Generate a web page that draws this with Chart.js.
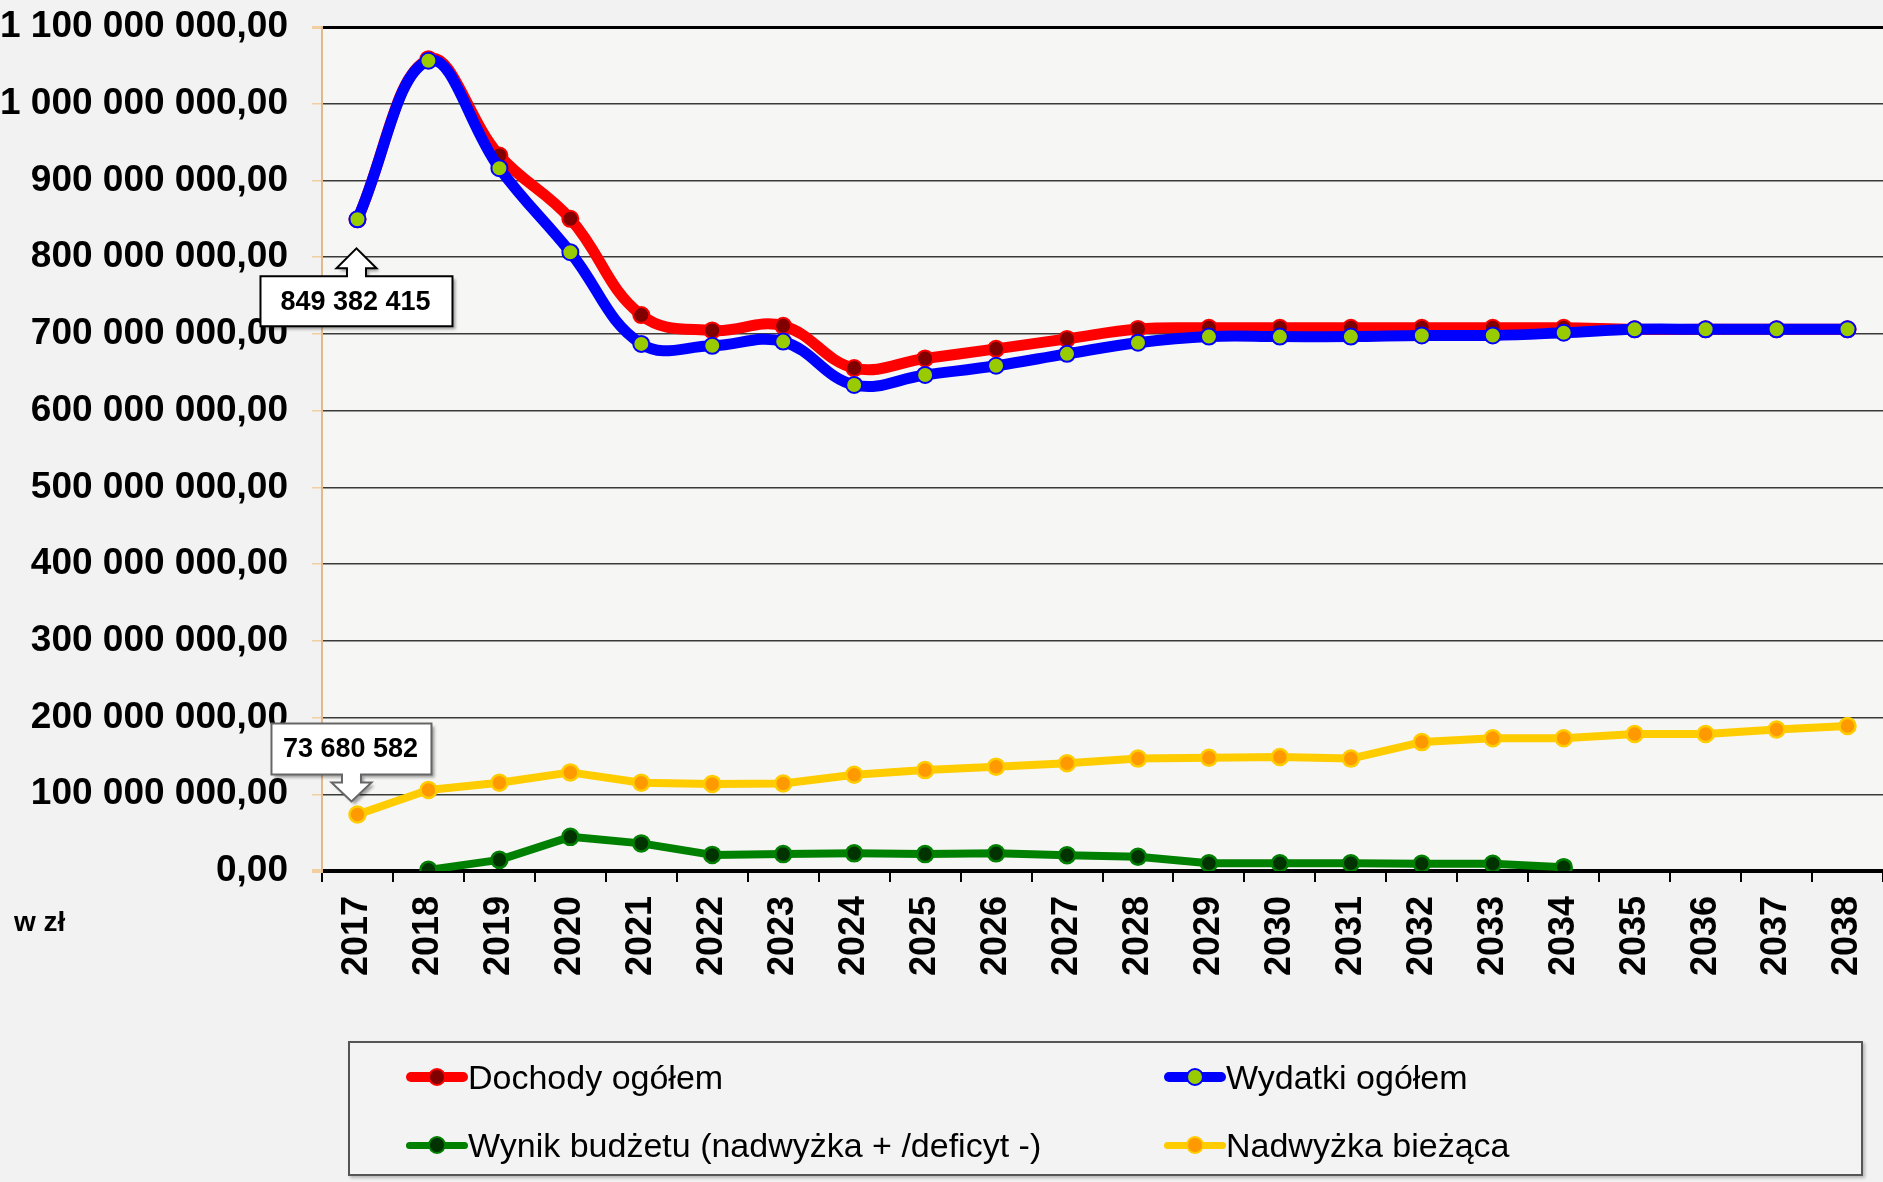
<!DOCTYPE html>
<html lang="pl">
<head>
    <meta charset="UTF-8">
    <title>Dochody i wydatki 2017-2038</title>
    <script src="https://cdn.jsdelivr.net/npm/chart.js"></script>
    <style>
        body {
            margin: 0;
            width: 1883px;
            height: 1182px;
            overflow: hidden;
            background: #f2f2f2;
            font-family: "Liberation Sans", Arial, sans-serif;
        }
        .wrap {
            position: relative;
            width: 1883px;
            height: 1182px;
        }
        #budgetChart {
            position: absolute;
            left: 0;
            top: 0;
        }
        .unit {
            position: absolute;
            left: 14px;
            top: 906px;
            font-weight: bold;
            font-size: 28px;
        }
        .legend {
            position: absolute;
            left: 348px;
            top: 1041px;
            width: 1511px;
            height: 131px;
            border: 2px solid #555;
            background: #f3f3f3;
            box-shadow: 2px 2px 3px rgba(0, 0, 0, 0.25);
        }
        .legend-item {
            position: absolute;
            height: 40px;
            display: flex;
            align-items: center;
            font-size: 34px;
            color: #000;
            white-space: nowrap;
        }
        .legend-sym {
            position: relative;
            width: 62px;
            margin-right: 0;
            border-radius: 5px;
        }
        .legend-dot {
            position: absolute;
            left: 22px;
            width: 14px;
            height: 14px;
            border-radius: 50%;
            border: 2px solid;
        }
    </style>
</head>
<body>
<div class="wrap">
    <canvas id="budgetChart" width="1883" height="1182"></canvas>
    <div class="unit">w zł</div>
    <div class="legend" id="legend"></div>
</div>

<script>
    const years = ['2017', '2018', '2019', '2020', '2021', '2022', '2023', '2024', '2025', '2026', '2027',
        '2028', '2029', '2030', '2031', '2032', '2033', '2034', '2035', '2036', '2037', '2038'];

    const dochody = [849382415, 1058000000, 932500000, 850000000, 724500000, 704500000, 710500000, 655500000,
        668000000, 680500000, 693500000, 706500000, 708000000, 708000000, 708000000, 708000000, 708000000,
        708000000, 706000000, 706000000, 706000000, 706000000];

    const wydatki = [849382415, 1056000000, 916000000, 806500000, 687000000, 684500000, 690000000, 633500000,
        646500000, 658500000, 674000000, 688500000, 696500000, 696500000, 696500000, 698000000, 698000000,
        701500000, 706000000, 706000000, 706000000, 706000000];

    const wynik = [null, 1500000, 14500000, 44500000, 36000000, 21000000, 22000000, 23000000, 22000000,
        23000000, 20500000, 18500000, 10000000, 10000000, 10000000, 9500000, 9500000, 5000000,
        null, null, null, null];

    const nadwyzka = [73680582, 105500000, 115000000, 128500000, 115000000, 113500000, 114000000, 125500000,
        131500000, 136000000, 140500000, 146500000, 147500000, 148500000, 146500000, 168000000, 173000000,
        173000000, 178500000, 178500000, 184500000, 189000000];

    const yMax = 1100000000;
    const yStep = 100000000;

    function fmt(v) {
        return Math.round(v).toString().replace(/\B(?=(\d{3})+(?!\d))/g, ' ');
    }

    Chart.defaults.font.family = '"Liberation Sans", Arial, sans-serif';
    Chart.defaults.color = '#000';

    // light fill behind the plot
    const plotBg = {
        id: 'plotBg',
        beforeDraw(chart) {
            const { ctx, chartArea: a } = chart;
            ctx.save();
            ctx.fillStyle = '#f6f6f5';
            ctx.fillRect(a.left, a.top, a.right - a.left, a.bottom - a.top);
            ctx.restore();
        }
    };

    // box + arrow label pointing at a data point
    function drawCallout(ctx, x, y, text, dir, stroke) {
        let tx, ty, hb, bt, bb, bl, br, textX;
        const hh = 20, sh = 9.5;
        if (dir === 'up') {
            tx = x - 1; ty = y + 29; hb = ty + 20;
            bt = hb + 8; bb = bt + 50; bl = x - 97; br = x + 95; textX = x - 2;
        } else {
            tx = x - 6; ty = y - 13; hb = ty - 19;
            bb = hb - 8; bt = bb - 51; bl = x - 86; br = x + 74; textX = x - 7;
        }
        ctx.save();
        ctx.beginPath();
        if (dir === 'up') {
            ctx.moveTo(bl, bt);
            ctx.lineTo(tx - sh, bt); ctx.lineTo(tx - sh, hb); ctx.lineTo(tx - hh, hb);
            ctx.lineTo(tx, ty);
            ctx.lineTo(tx + hh, hb); ctx.lineTo(tx + sh, hb); ctx.lineTo(tx + sh, bt);
            ctx.lineTo(br, bt); ctx.lineTo(br, bb); ctx.lineTo(bl, bb);
        } else {
            ctx.moveTo(bl, bt);
            ctx.lineTo(br, bt); ctx.lineTo(br, bb);
            ctx.lineTo(tx + sh, bb); ctx.lineTo(tx + sh, hb); ctx.lineTo(tx + hh, hb);
            ctx.lineTo(tx, ty);
            ctx.lineTo(tx - hh, hb); ctx.lineTo(tx - sh, hb); ctx.lineTo(tx - sh, bb);
            ctx.lineTo(bl, bb);
        }
        ctx.closePath();
        ctx.shadowColor = 'rgba(0, 0, 0, 0.35)';
        ctx.shadowOffsetX = 3;
        ctx.shadowOffsetY = 3;
        ctx.shadowBlur = 3;
        ctx.fillStyle = '#fff';
        ctx.fill();
        ctx.shadowColor = 'transparent';
        ctx.lineWidth = 2;
        ctx.strokeStyle = stroke;
        ctx.stroke();
        ctx.fillStyle = '#000';
        ctx.font = 'bold 27px "Liberation Sans", Arial, sans-serif';
        ctx.textAlign = 'center';
        ctx.textBaseline = 'middle';
        ctx.fillText(text, textX, (bt + bb) / 2 + 1);
        ctx.restore();
    }

    const callouts = {
        id: 'callouts',
        afterDatasetsDraw(chart) {
            const pBlue = chart.getDatasetMeta(1).data[0];
            const pYellow = chart.getDatasetMeta(3).data[0];
            drawCallout(chart.ctx, pBlue.x, pBlue.y, fmt(wydatki[0]), 'up', '#000');
            drawCallout(chart.ctx, pYellow.x, pYellow.y, fmt(nadwyzka[0]), 'down', '#666');
        }
    };

    const ctx = document.getElementById('budgetChart').getContext('2d');
    const budgetChart = new Chart(ctx, {
        type: 'line',
        data: {
            labels: years,
            datasets: [
                {
                    label: 'Dochody ogółem',
                    data: dochody,
                    borderColor: '#ff0000',
                    borderWidth: 11,
                    tension: 0.4,
                    pointBackgroundColor: '#800000',
                    pointBorderColor: '#ff0000',
                    order: 1
                },
                {
                    label: 'Wydatki ogółem',
                    data: wydatki,
                    borderColor: '#0000ff',
                    borderWidth: 11,
                    tension: 0.4,
                    pointBackgroundColor: '#99cc00',
                    pointBorderColor: '#0000ff',
                    order: 0
                },
                {
                    label: 'Wynik budżetu (nadwyżka + /deficyt -)',
                    data: wynik,
                    borderColor: '#008000',
                    borderWidth: 8,
                    tension: 0,
                    pointBackgroundColor: '#003300',
                    pointBorderColor: '#008000',
                    pointBorderWidth: 2.5,
                    order: 2
                },
                {
                    label: 'Nadwyżka bieżąca',
                    data: nadwyzka,
                    borderColor: '#ffcc00',
                    borderWidth: 8,
                    tension: 0,
                    pointBackgroundColor: '#ff9900',
                    pointBorderColor: '#ffcc00',
                    pointBorderWidth: 2.5,
                    order: 3
                }
            ]
        },
        options: {
            responsive: false,
            animation: false,
            layout: { autoPadding: false, padding: { top: 27, left: 0, right: 0, bottom: 0 } },
            datasets: {
                line: { pointRadius: 8, pointHoverRadius: 8, pointBorderWidth: 2, pointHoverBorderWidth: 2 }
            },
            elements: {
                line: { borderCapStyle: 'round', borderJoinStyle: 'round' }
            },
            plugins: {
                legend: { display: false },
                tooltip: { enabled: false }
            },
            scales: {
                x: {
                    offset: true,
                    grid: {
                        offset: true,
                        drawOnChartArea: false,
                        tickLength: 11,
                        color: '#000',
                        lineWidth: 2
                    },
                    border: { color: '#000', width: 3 },
                    ticks: {
                        minRotation: 90,
                        maxRotation: 90,
                        padding: 14,
                        font: { size: 36, weight: 'bold', lineHeight: 1 }
                    },
                    afterFit(scale) {
                        scale.height = 311;
                        scale.paddingLeft = 0;
                        scale.paddingRight = 0;
                    }
                },
                y: {
                    min: 0,
                    max: yMax,
                    ticks: {
                        stepSize: yStep,
                        padding: 24,
                        font: { size: 37, weight: 'bold' },
                        callback: v => fmt(v) + ',00'
                    },
                    grid: {
                        color: c => (c.tick.value === 0 || c.tick.value === yMax) ? '#000' : '#3a3a3a',
                        lineWidth: c => c.tick.value === 0 ? 4 : (c.tick.value === yMax ? 3 : 1.5),
                        tickColor: '#f2cfa0',
                        tickLength: 10
                    },
                    border: { color: '#e2b98a', width: 2 },
                    afterFit(scale) {
                        scale.width = 322;
                        scale.paddingTop = 0;
                        scale.paddingBottom = 0;
                    }
                }
            }
        },
        plugins: [plotBg, callouts]
    });

    // legend box, two columns
    const legendPos = [[56, 14], [814, 14], [56, 82], [814, 82]];
    const legendEl = document.getElementById('legend');
    budgetChart.data.datasets.forEach((ds, i) => {
        const item = document.createElement('div');
        item.className = 'legend-item';
        item.style.left = legendPos[i][0] + 'px';
        item.style.top = legendPos[i][1] + 'px';
        const sym = document.createElement('div');
        sym.className = 'legend-sym';
        sym.style.height = (ds.borderWidth - 1) + 'px';
        sym.style.background = ds.borderColor;
        const dot = document.createElement('div');
        dot.className = 'legend-dot';
        dot.style.top = ((ds.borderWidth - 1) / 2 - 9) + 'px';
        dot.style.background = ds.pointBackgroundColor;
        dot.style.borderColor = ds.pointBorderColor;
        sym.appendChild(dot);
        const txt = document.createElement('span');
        txt.textContent = ds.label;
        item.appendChild(sym);
        item.appendChild(txt);
        legendEl.appendChild(item);
    });
</script>
</body>
</html>
